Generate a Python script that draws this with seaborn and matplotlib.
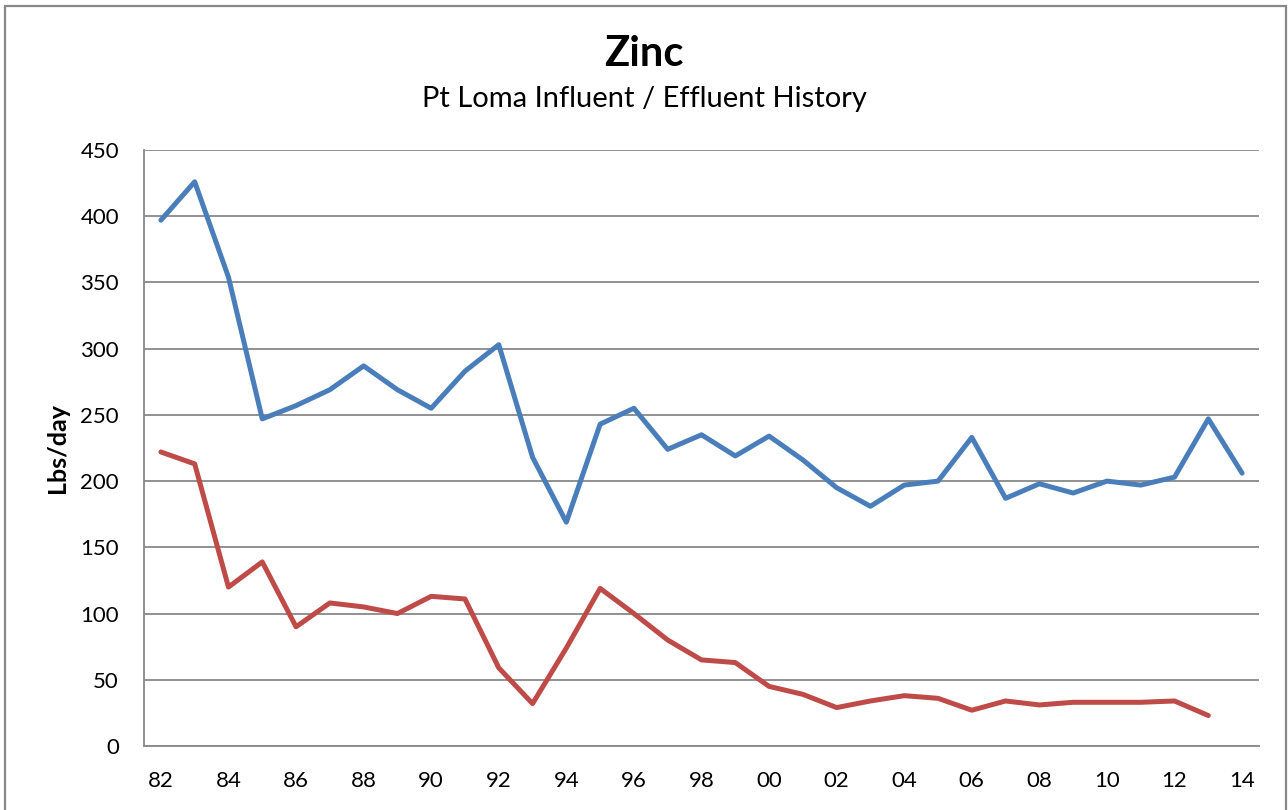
import numpy as np
import pandas as pd
import seaborn as sns
import matplotlib.pyplot as plt
from matplotlib.patches import Rectangle

# Pt Loma zinc loads, lbs/day
years = list(range(1982, 2015))
influent = [397, 426, 354, 247, 257, 269, 287, 269, 255, 283, 303, 218, 169, 243, 255, 224,
            235, 219, 234, 216, 195, 181, 197, 200, 233, 187, 198, 191, 200, 197, 203, 247, 206]
effluent = [222, 213, 120, 139, 90, 108, 105, 100, 113, 111, 59, 32, 74, 119, 100, 80,
            65, 63, 45, 39, 29, 34, 38, 36, 27, 34, 31, 33, 33, 33, 34, 23]
yticks = list(range(0, 451, 50))
xticks = list(range(1982, 2015, 2))

df = pd.concat([
    pd.DataFrame({"year": years, "lbs": influent, "series": "Influent"}),
    pd.DataFrame({"year": years[:len(effluent)], "lbs": effluent, "series": "Effluent"}),
])

sns.set_style("white")
plt.rcParams['font.family'] = ['Lato', 'DejaVu Sans']
plt.rcParams['text.color'] = 'black'
plt.rcParams['axes.labelcolor'] = 'black'

fig = plt.figure(figsize=(12.88, 8.10), dpi=100)
ax = fig.add_axes([144 / 1288, 64 / 810, (1259 - 144) / 1288, (746 - 150) / 810])

sns.lineplot(data=df, x="year", y="lbs", hue="series",
             palette={"Influent": "#4A7EBB", "Effluent": "#BE4B48"},
             linewidth=3.6, legend=False, ax=ax)

ax.set_xlim(1981.5, 2014.5)
ax.set_ylim(0, 450)
ax.set_yticks(yticks)
ax.set_yticklabels([str(v) for v in yticks])
ax.set_xticks(xticks)
ax.set_xticklabels([str(y)[-2:] for y in xticks])
ax.tick_params(axis="both", length=0, labelsize=16, colors="black")
ax.tick_params(axis="y", pad=18)
ax.tick_params(axis="x", pad=18)
ax.yaxis.grid(True, color="#888888", linewidth=1.3)
ax.set_axisbelow(True)
for side in ["top", "right"]:
    ax.spines[side].set_visible(False)
for side in ["left", "bottom"]:
    ax.spines[side].set_color("#888888")
    ax.spines[side].set_linewidth(1.3)

ax.set_xlabel("")
ax.set_ylabel("Lbs/day", fontsize=18, fontweight="bold", labelpad=8)

fig.text(0.5, 1 - 54 / 810, "Zinc", ha="center", va="center", fontsize=30, fontweight="bold")
fig.text(0.5, 1 - 99 / 810, "Pt Loma Influent / Effluent History", ha="center", va="center", fontsize=21)

# chart-area border
fig.patches.append(Rectangle((4.5 / 1288, -0.02), 1281.5 / 1288, (810 - 5.5) / 810 + 0.02,
                             transform=fig.transFigure, fill=False,
                             edgecolor="#888888", linewidth=1.6))

fig.savefig("out.png", dpi=100)
